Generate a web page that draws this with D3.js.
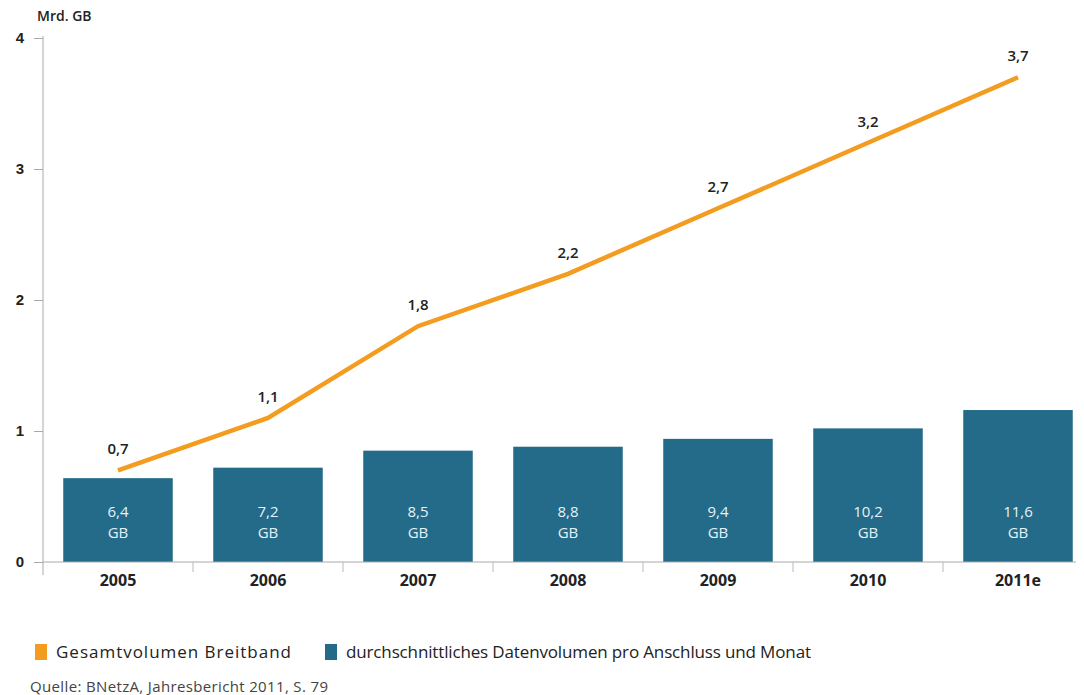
<!DOCTYPE html>
<html>
<head>
<meta charset="utf-8">
<script src="https://cdn.jsdelivr.net/npm/d3@7"></script>
<style>
  body { margin: 0; background: #fff; }
  svg { display: block; font-family: "Open Sans", "Noto Sans", sans-serif; }
</style>
</head>
<body>
<div id="chart"></div>
<script>
// data
var years = ["2005", "2006", "2007", "2008", "2009", "2010", "2011e"];
var totalVolume = [0.7, 1.1, 1.8, 2.2, 2.7, 3.2, 3.7];       // Mrd. GB
var avgVolume = [6.4, 7.2, 8.5, 8.8, 9.4, 10.2, 11.6];        // GB pro Anschluss und Monat
var yTicks = [0, 1, 2, 3, 4];
var legendLabels = ["Gesamtvolumen Breitband", "durchschnittliches Datenvolumen pro Anschluss und Monat"];

var width = 1084, height = 695;
var orange = "#f39c1f", teal = "#246a89";

var svg = d3.select("#chart").append("svg")
    .attr("width", width)
    .attr("height", height);

var x = d3.scaleBand()
    .domain(years)
    .range([43, 1093])
    .paddingInner(0.27)
    .paddingOuter(0.135);

var y = d3.scaleLinear().domain([0, 4]).range([562, 38]);
// bars use GB, one axis unit = 10 GB
var yBar = d3.scaleLinear().domain([0, 40]).range([562, 38]);

function fmt(v) { return String(v).replace(".", ","); }

// y axis
var yAxis = svg.append("g")
    .attr("transform", "translate(43,0)")
    .call(d3.axisLeft(y).tickValues(yTicks).tickSize(9).tickPadding(10).tickFormat(d3.format("d")));
yAxis.select(".domain").attr("d", "M0,36V575").attr("stroke", "#aaa");
yAxis.selectAll(".tick line").attr("stroke", "#aaa");
yAxis.selectAll(".tick text")
    .style("font-size", "15px").style("font-weight", "bold").attr("fill", "#222");

svg.append("text").attr("x", 37).attr("y", 21)
    .style("font-size", "14px").style("font-weight", "600").attr("fill", "#222")
    .text("Mrd. GB");

// bars
svg.selectAll(".bar")
    .data(avgVolume)
    .enter()
    .append("rect")
    .attr("class", "bar")
    .attr("x", function(d, i) { return x(years[i]); })
    .attr("y", function(d) { return yBar(d); })
    .attr("width", x.bandwidth())
    .attr("height", function(d) { return yBar(0) - yBar(d); })
    .attr("fill", teal);

var barLabels = svg.selectAll(".barLabel")
    .data(avgVolume)
    .enter()
    .append("text")
    .attr("class", "barLabel")
    .attr("text-anchor", "middle")
    .attr("fill", "#e4f2f8")
    .style("font-size", "15px");
barLabels.append("tspan")
    .attr("x", function(d, i) { return x(years[i]) + x.bandwidth() / 2; })
    .attr("y", 517)
    .text(function(d) { return fmt(d); });
barLabels.append("tspan")
    .attr("x", function(d, i) { return x(years[i]) + x.bandwidth() / 2; })
    .attr("y", 538)
    .text("GB");

// x axis
svg.append("line")
    .attr("x1", 43).attr("x2", 1076)
    .attr("y1", 562).attr("y2", 562)
    .attr("stroke", "#aaa");
svg.selectAll(".xTick")
    .data(years.slice(1))
    .enter()
    .append("line")
    .attr("class", "xTick")
    .attr("x1", function(d) { return x(d) - x.step() * x.paddingInner() / 2; })
    .attr("x2", function(d) { return x(d) - x.step() * x.paddingInner() / 2; })
    .attr("y1", 562).attr("y2", 572)
    .attr("stroke", "#bbb");
svg.selectAll(".xLabel")
    .data(years)
    .enter()
    .append("text")
    .attr("class", "xLabel")
    .attr("x", function(d) { return x(d) + x.bandwidth() / 2; })
    .attr("y", 586)
    .attr("text-anchor", "middle")
    .style("font-size", "16px").style("font-weight", "bold").attr("fill", "#222")
    .text(function(d) { return d; });

// line
var line = d3.line()
    .x(function(d, i) { return x(years[i]) + x.bandwidth() / 2; })
    .y(function(d) { return y(d); });
svg.append("path")
    .datum(totalVolume)
    .attr("d", line)
    .attr("fill", "none")
    .attr("stroke", orange)
    .attr("stroke-width", 4.5);

svg.selectAll(".lineLabel")
    .data(totalVolume)
    .enter()
    .append("text")
    .attr("class", "lineLabel")
    .attr("x", function(d, i) { return x(years[i]) + x.bandwidth() / 2; })
    .attr("y", function(d) { return y(d) - 16; })
    .attr("text-anchor", "middle")
    .style("font-size", "15px").style("font-weight", "600").attr("fill", "#222")
    .text(function(d) { return fmt(d); });

// legend
var legendX = [35, 325];
var legendW = [235, 465];
var legendColors = [orange, teal];
var legend = svg.selectAll(".legend")
    .data(legendLabels)
    .enter()
    .append("g")
    .attr("class", "legend")
    .attr("transform", function(d, i) { return "translate(" + legendX[i] + ",644)"; });
legend.append("rect")
    .attr("width", 12).attr("height", 16)
    .attr("fill", function(d, i) { return legendColors[i]; });
legend.append("text")
    .attr("x", 21).attr("y", 14)
    .attr("textLength", function(d, i) { return legendW[i]; })
    .style("font-size", "17px").attr("fill", "#222")
    .text(function(d) { return d; });

svg.append("text").attr("x", 30).attr("y", 692)
    .style("font-size", "15px").attr("fill", "#444")
    .attr("textLength", 298)
    .text("Quelle: BNetzA, Jahresbericht 2011, S. 79");
</script>
</body>
</html>
